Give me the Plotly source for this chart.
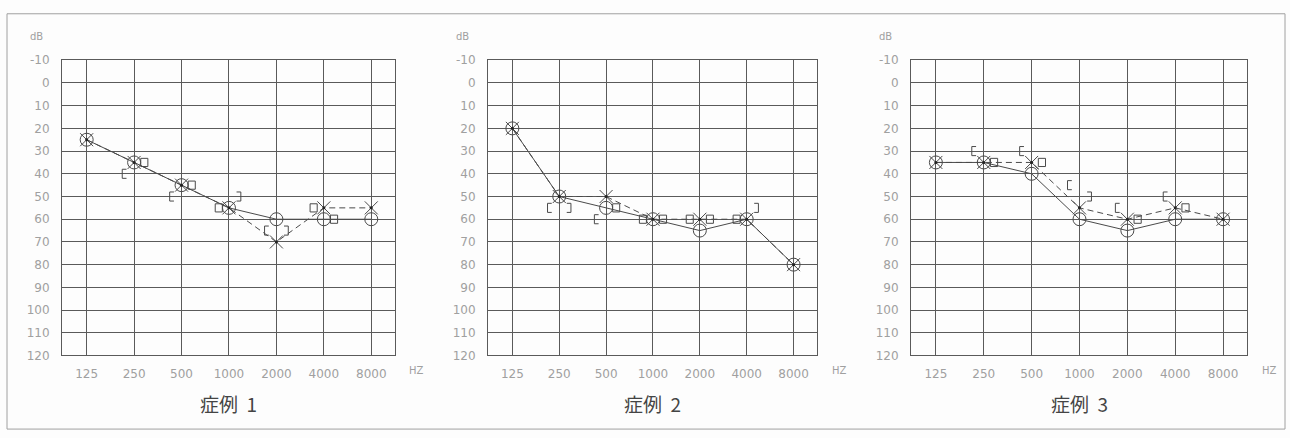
import plotly.graph_objects as go

# Audiogram frequencies (Hz) shown on every panel
freqs = ["125", "250", "500", "1000", "2000", "4000", "8000"]
db_ticks = list(range(-10, 121, 10))

# 症例 1
case1_right_ac = [25, 35, 45, 55, 60, 60, 60]
case1_left_ac = [25, 35, 45, 55, 70, 55, 55]
case1_right_bc = [None, 40, 50, None, 65, None, None]
case1_left_bc = [None, None, None, 50, 65, None, None]
case1_right_bc_masked = [None, None, None, 55, None, 55, None]
case1_left_bc_masked = [None, 35, 45, None, None, 60, None]

# 症例 2
case2_right_ac = [20, 50, 55, 60, 65, 60, 80]
case2_left_ac = [20, 50, 50, 60, 60, 60, 80]
case2_right_bc = [None, 55, 60, None, None, None, None]
case2_left_bc = [None, 55, None, None, None, 55, None]
case2_right_bc_masked = [None, None, None, 60, 60, 60, None]
case2_left_bc_masked = [None, None, 55, 60, 60, None, None]

# 症例 3
case3_right_ac = [35, 35, 40, 60, 65, 60, 60]
case3_left_ac = [35, 35, 35, 55, 60, 55, 60]
case3_right_bc = [None, 30, 30, 45, 55, 50, None]
case3_left_bc = [None, None, None, 50, None, None, None]
case3_right_bc_masked = [None, None, None, None, None, None, None]
case3_left_bc_masked = [None, 35, 35, None, 60, 55, None]

case_titles = ["症例  1", "症例  2", "症例  3"]

cases = [
    (case1_right_ac, case1_left_ac, case1_right_bc, case1_left_bc, case1_right_bc_masked, case1_left_bc_masked),
    (case2_right_ac, case2_left_ac, case2_right_bc, case2_left_bc, case2_right_bc_masked, case2_left_bc_masked),
    (case3_right_ac, case3_left_ac, case3_right_bc, case3_left_bc, case3_right_bc_masked, case3_left_bc_masked),
]

W, H = 1290, 438
# pixel layout of the three plotting areas (left, right)
panel_px = [(62, 395), (488, 817), (911, 1247)]
top_px, bottom_px = 55, 360

ink = "#4a4a4a"
grid = "#5a5a5a"
label_col = "#a0a0a0"


def bracket_path(vals, side):
    """Open bracket beside the frequency line: '[' for side=-1, ']' for side=+1."""
    xs, ys = [], []
    for k, v in enumerate(vals):
        if v is None:
            continue
        arm, spine, half = k + side * 0.16, k + side * 0.25, 2.0
        xs += [arm, spine, spine, arm, None]
        ys += [v - half, v - half, v + half, v + half, None]
    return xs, ys


def box_path(vals, side):
    """Small closed box beside the frequency line (masked bone conduction)."""
    xs, ys = [], []
    for k, v in enumerate(vals):
        if v is None:
            continue
        near, far, half = k + side * 0.14, k + side * 0.29, 1.8
        xs += [near, far, far, near, near, None]
        ys += [v - half, v - half, v + half, v + half, v - half, None]
    return xs, ys


fig = go.Figure()
xidx = list(range(len(freqs)))

for i, (r_ac, l_ac, r_bc, l_bc, r_bcm, l_bcm) in enumerate(cases):
    n = "" if i == 0 else str(i + 1)
    xa, ya = "x" + n, "y" + n

    # bone conduction brackets and boxes beside the frequency line
    for xs, ys in [bracket_path(r_bc, -1), bracket_path(l_bc, +1),
                   box_path(r_bcm, -1), box_path(l_bcm, +1)]:
        if not xs:
            continue
        fig.add_trace(go.Scatter(x=xs, y=ys, mode="lines", xaxis=xa, yaxis=ya,
                                 line=dict(color=ink, width=1),
                                 showlegend=False, hoverinfo="skip"))

    # right ear air conduction: circles, solid line
    fig.add_trace(go.Scatter(x=xidx, y=r_ac, mode="lines+markers", xaxis=xa, yaxis=ya,
                             line=dict(color=ink, width=1),
                             marker=dict(symbol="circle-open", size=13, color=ink, line=dict(width=1)),
                             showlegend=False, hoverinfo="skip"))
    # left ear air conduction: crosses, dashed line
    fig.add_trace(go.Scatter(x=xidx, y=l_ac, mode="lines+markers", xaxis=xa, yaxis=ya,
                             line=dict(color=ink, width=1, dash="6px,4px"),
                             marker=dict(symbol="x-thin-open", size=13, color=ink, line=dict(width=1, color=ink)),
                             showlegend=False, hoverinfo="skip"))
    fig.add_trace(go.Scatter(x=xidx, y=l_ac, mode="markers", xaxis=xa, yaxis=ya,
                             marker=dict(symbol="circle", size=3, color="#222"),
                             showlegend=False, hoverinfo="skip"))

    left, right = panel_px[i]
    dom_x = [left / W, right / W]
    dom_y = [1 - bottom_px / H, 1 - top_px / H]
    common = dict(showgrid=True, gridcolor=grid, gridwidth=1, zeroline=False,
                  showline=True, linecolor=grid, linewidth=1, mirror=True, ticks="",
                  tickfont=dict(family="DejaVu Sans", size=12, color=label_col))
    fig.layout["xaxis" + n] = dict(domain=dom_x, range=[-0.52, 6.5], tickmode="array",
                                   tickvals=xidx, ticktext=freqs, anchor=ya,
                                   ticklabelstandoff=7, **common)
    fig.layout["yaxis" + n] = dict(domain=dom_y, range=[120, -10], tickmode="array",
                                   tickvals=db_ticks, ticktext=[str(v) for v in db_ticks],
                                   anchor=xa, ticklabelstandoff=9, **common)

    ann = dict(xref="paper", yref="paper", showarrow=False, xanchor="center", yanchor="middle")
    fig.add_annotation(text=case_titles[i], x=(left + right) / 2 / W, y=1 - 410 / H,
                       font=dict(family="Noto Sans CJK JP", size=19, color="#444"), **ann)
    fig.add_annotation(text="dB", x=(left - 26) / W, y=1 - 30 / H,
                       font=dict(family="DejaVu Sans", size=10, color=label_col), **ann)
    fig.add_annotation(text="HZ", x=(right + 22) / W, y=1 - 375 / H,
                       font=dict(family="DejaVu Sans", size=10, color=label_col), **ann)

# outer frame of the figure
fig.add_shape(type="rect", xref="paper", yref="paper", x0=7 / W, x1=1285 / W, y0=1 - 436 / H, y1=1 - 7 / H,
              line=dict(color="#a0a0a0", width=1))

fig.update_layout(width=W, height=H, margin=dict(l=0, r=0, t=0, b=0),
                  paper_bgcolor="#fdfdfd", plot_bgcolor="#fdfdfd", showlegend=False)

fig.write_html("out.html")
